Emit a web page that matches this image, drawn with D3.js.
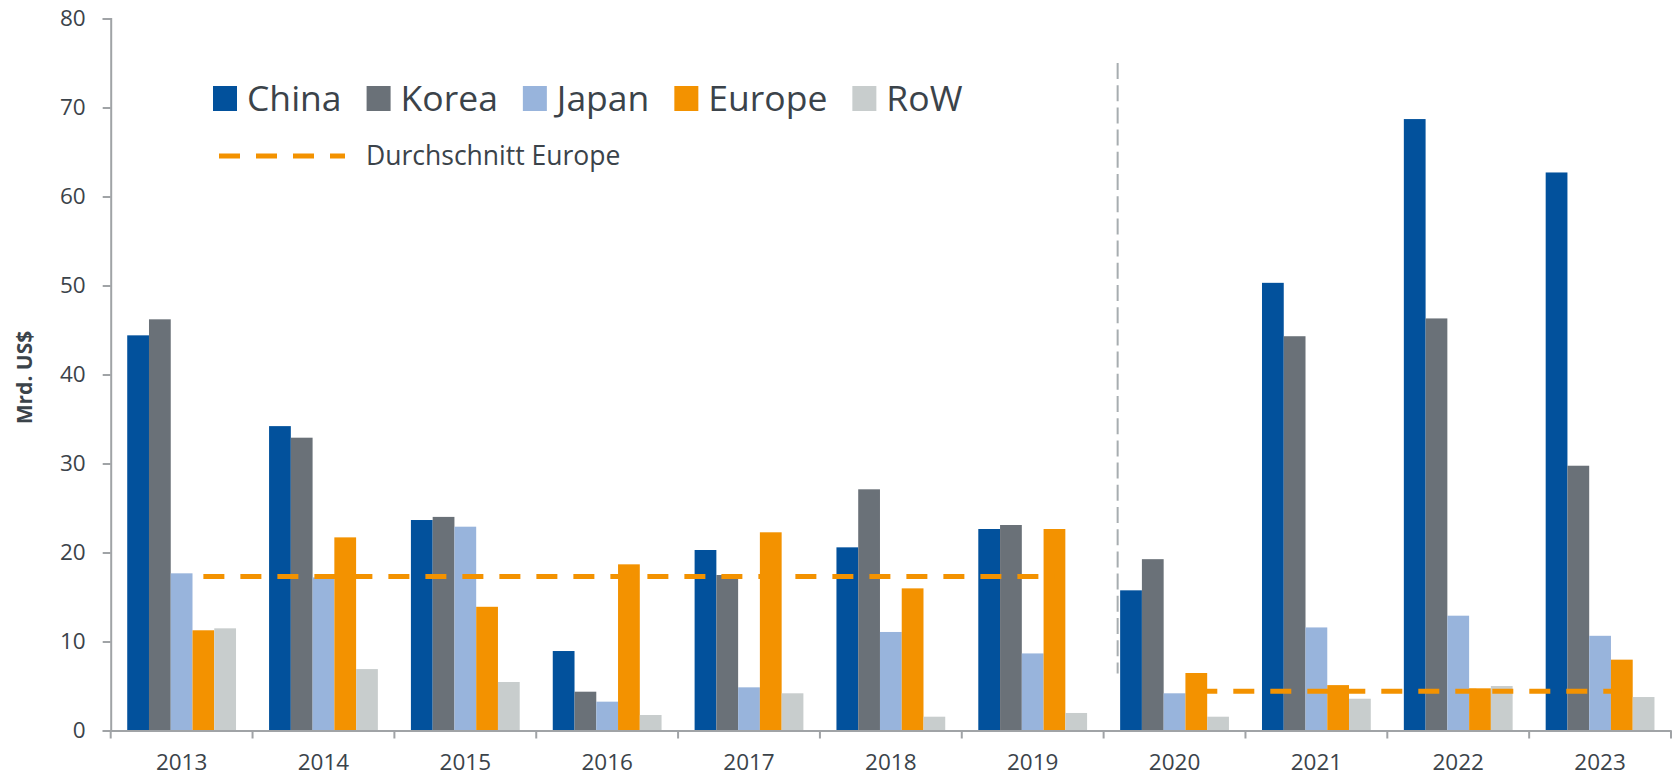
<!DOCTYPE html>
<html>
<head>
<meta charset="utf-8">
<script src="https://cdn.jsdelivr.net/npm/d3@7"></script>
<style>
  html, body { margin: 0; padding: 0; background: #ffffff; }
  svg { display: block; }
  text { font-family: "Open Sans", "Noto Sans", sans-serif; fill: #3b434a; }
</style>
</head>
<body>
<svg id="chart" width="1676" height="778"></svg>
<script>
// ---- data ----
const years = ["2013","2014","2015","2016","2017","2018","2019","2020","2021","2022","2023"];
const seriesNames = ["China","Korea","Japan","Europe","RoW"];
const china  = [44.4, 34.2, 23.65, 8.93, 20.28, 20.58, 22.64, 15.75, 50.3, 68.7, 62.7];
const korea  = [46.2, 32.9, 24.0, 4.36, 17.47, 27.1, 23.09, 19.25, 44.3, 46.3, 29.75];
const japan  = [17.66, 17.2, 22.9, 3.24, 4.85, 11.07, 8.66, 4.18, 11.58, 12.9, 10.64];
const europe = [11.26, 21.7, 13.9, 18.67, 22.27, 15.97, 22.64, 6.46, 5.1, 4.74, 7.96];
const row    = [11.48, 6.9, 5.45, 1.74, 4.18, 1.55, 1.97, 1.55, 3.57, 5.0, 3.76];
const avgPeriods = [
  {from: "2013", to: "2019", value: 17.3},
  {from: "2020", to: "2023", value: 4.4}
];
const yTicks = [0,10,20,30,40,50,60,70,80];
const avgLabel = "Durchschnitt Europe";
const yTitle = "Mrd. US$";
const separatorYear = "2020";
const separatorRange = [6.4, 75];

// ---- styles ----
const colors = {China:"#02519c", Korea:"#6a7178", Japan:"#98b4dc", Europe:"#f39200", RoW:"#c8cdcd"};
const axisColor = "#a0a3a6";

const svg = d3.select("#chart");
const values = {China: china, Korea: korea, Japan: japan, Europe: europe, RoW: row};

const x0 = d3.scaleBand().domain(years).range([110.7, 1671]).paddingInner(0.233).paddingOuter(0.1165);
const x1 = d3.scaleBand().domain(seriesNames).range([0, x0.bandwidth()]);
const y = d3.scaleLinear().domain([0, 80]).range([730.5, 18.5]);

// bars
seriesNames.forEach(s => {
  svg.append("g").selectAll("rect")
    .data(years.map((yr, i) => ({yr, v: values[s][i]})))
    .join("rect")
    .attr("x", d => x0(d.yr) + x1(s))
    .attr("width", x1.bandwidth())
    .attr("y", d => y(d.v))
    .attr("height", d => y(0) - y(d.v))
    .attr("fill", colors[s]);
});

// average lines
avgPeriods.forEach(p => {
  const xa = x0(p.from) + x1("Europe") + x1.bandwidth()/2;
  const xb = x0(p.to) + x1("Europe") + x1.bandwidth()/2;
  svg.append("line")
    .attr("x1", xa).attr("x2", xb)
    .attr("y1", y(p.value)).attr("y2", y(p.value))
    .attr("stroke", colors.Europe).attr("stroke-width", 5)
    .attr("stroke-dasharray", "21,16");
});

// separator
const sx = x0(separatorYear) - 2.5;
svg.append("line")
  .attr("x1", sx).attr("x2", sx)
  .attr("y1", y(separatorRange[1])).attr("y2", y(separatorRange[0]))
  .attr("stroke", "#a7adb0").attr("stroke-width", 2)
  .attr("stroke-dasharray", "16,6.2");

// y axis
const yAxis = svg.append("g").attr("transform", "translate(110.7,0)")
  .call(d3.axisLeft(y).tickValues(yTicks).tickSize(8).tickPadding(17).tickFormat(d3.format("d")));
yAxis.select(".domain").attr("stroke", axisColor).attr("stroke-width", 2);
yAxis.selectAll(".tick line").attr("stroke", axisColor).attr("stroke-width", 2);
yAxis.selectAll(".tick text").attr("font-size", 22.5).attr("fill", "#3b434a")
  .style("font-family", '"Open Sans", sans-serif');

// x axis
const xAxis = svg.append("g").attr("transform", `translate(0,${y(0)})`)
  .call(d3.axisBottom(x0).tickSize(0).tickPadding(24));
xAxis.select(".domain").attr("stroke", axisColor).attr("stroke-width", 2);
xAxis.selectAll(".tick text").attr("font-size", 22.5).attr("fill", "#3b434a")
  .style("font-family", '"Open Sans", sans-serif');
// boundary ticks
const bounds = years.map(yr => x0(yr) - x0.step()*x0.paddingInner()/2);
bounds.push(x0(years[years.length-1]) + x0.bandwidth() + x0.step()*x0.paddingInner()/2);
svg.append("g").selectAll("line").data(bounds).join("line")
  .attr("x1", d => d).attr("x2", d => d)
  .attr("y1", y(0)).attr("y2", y(0) + 8)
  .attr("stroke", axisColor).attr("stroke-width", 2);

// y title
svg.append("text")
  .attr("transform", "translate(32,377.5) rotate(-90)")
  .attr("text-anchor", "middle")
  .attr("font-size", 21).attr("font-weight", "bold")
  .text(yTitle);

// legend
let lx = 213;
seriesNames.forEach(s => {
  svg.append("rect").attr("x", lx).attr("y", 86).attr("width", 24).attr("height", 25)
    .attr("fill", colors[s]);
  const t = svg.append("text").attr("x", lx + 34).attr("y", 110.5)
    .attr("font-size", 35.5).text(s);
  lx = lx + 34 + t.node().getComputedTextLength() + 25;
});
svg.append("line").attr("x1", 219).attr("x2", 345).attr("y1", 156).attr("y2", 156)
  .attr("stroke", colors.Europe).attr("stroke-width", 5).attr("stroke-dasharray", "21,16");
svg.append("text").attr("x", 366).attr("y", 164.5).attr("font-size", 26.5).text(avgLabel);
</script>
</body>
</html>
